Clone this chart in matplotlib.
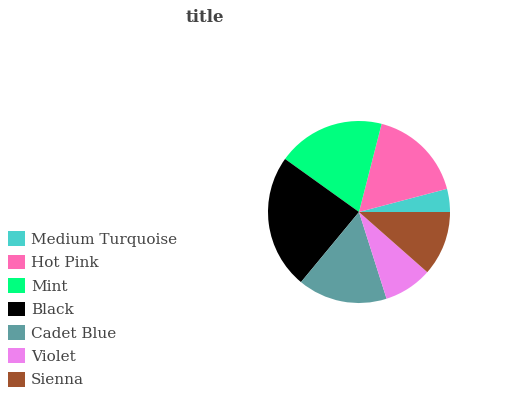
import matplotlib.pyplot as plt
from matplotlib.patches import Patch

# slice data (counter-clockwise from 3 o'clock)
labels = ["Medium Turquoise", "Hot Pink", "Mint", "Black", "Cadet Blue", "Violet", "Sienna"]
values = [4.1, 16.9, 19.1, 23.9, 15.9, 8.6, 11.5]
colors = ["#48D1CC", "#FF69B4", "#00FF7F", "#000000", "#5F9EA0", "#EE82EE", "#A0522D"]

W, H = 532, 400
cx, cy, r = 359, 212, 91  # pie centre and radius in pixels

fig = plt.figure(figsize=(W / 100, H / 100), dpi=100)
ax = fig.add_axes([0, 0, 1, 1])
ax.pie(values, colors=colors, startangle=0, counterclock=True, radius=1)
ax.set_xlim(-cx / r, (W - cx) / r)
ax.set_ylim(-(H - cy) / r, cy / r)
ax.set_aspect("auto")
ax.axis("off")

fig.text(205 / W, 1 - 17 / H, "title", ha="center", va="center",
         family="DejaVu Serif", weight="bold", fontsize=12, color="#444444")

handles = [Patch(facecolor=c, edgecolor="none") for c in colors]
leg = fig.legend(handles, labels, loc="upper left", bbox_to_anchor=(2 / W, 1 - 225 / H),
                 frameon=False, prop={"family": "DejaVu Serif", "size": 11},
                 handlelength=1.1, handleheight=1.1, handletextpad=0.4, labelspacing=0.52,
                 borderaxespad=0)
for t in leg.get_texts():
    t.set_color("#444444")

fig.savefig("out.png", dpi=100)
